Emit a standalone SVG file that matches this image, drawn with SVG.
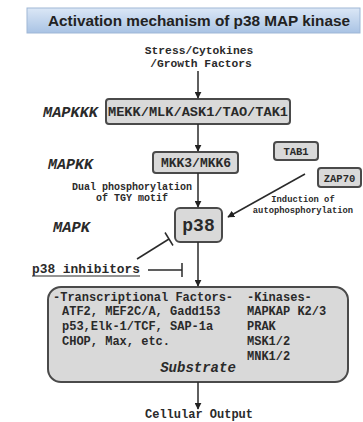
<svg xmlns="http://www.w3.org/2000/svg" width="363" height="422" viewBox="0 0 363 422">
<defs>
<linearGradient id="tg" x1="0" y1="0" x2="0" y2="1">
<stop offset="0" stop-color="#dbe7f6"/>
<stop offset="1" stop-color="#a9c3e4"/>
</linearGradient>
<marker id="ah" viewBox="0 0 10 10" refX="9" refY="5" markerWidth="7" markerHeight="7" markerUnits="userSpaceOnUse" orient="auto">
<path d="M0,0 L10,5 L0,10 z" fill="#222"/>
</marker>
</defs>
<style>
.m{font-family:"Liberation Mono","Courier New",monospace;font-weight:bold;fill:#2a2a2a}
.bx{fill:#d9d9d9;stroke:#4a4a4a;stroke-width:2}
.ln{stroke:#2a2a2a;stroke-width:1.5;fill:none}
.lab{font-family:"Liberation Mono",monospace;font-weight:bold;font-style:italic;font-size:14px;fill:#2a2a2a}
</style>
<rect width="363" height="422" fill="#ffffff"/>
<g id="title">
<rect x="27" y="8" width="333" height="25" fill="url(#tg)" stroke="#9fb7d6" stroke-width="1"/>
<text x="199" y="26" text-anchor="middle" font-family="Liberation Sans, Arial, sans-serif" font-weight="bold" font-size="14.5" fill="#222" textLength="302" lengthAdjust="spacingAndGlyphs">Activation mechanism of p38 MAP kinase</text>
</g>
<g id="stress">
<text class="m" x="199" y="54" text-anchor="middle" font-size="11.3">Stress/Cytokines</text>
<text class="m" x="201" y="67" text-anchor="middle" font-size="11.3">/Growth Factors</text>
</g>
<g id="labels">
<text class="lab" x="43" y="117" textLength="55" lengthAdjust="spacingAndGlyphs">MAPKKK</text>
<text class="lab" x="48" y="169" textLength="45" lengthAdjust="spacingAndGlyphs">MAPKK</text>
<text class="lab" x="53" y="232" textLength="37" lengthAdjust="spacingAndGlyphs">MAPK</text>
</g>
<g id="mekk">
<rect class="bx" x="106" y="99" width="184" height="25" rx="3"/>
<text class="m" x="198" y="116" text-anchor="middle" font-size="13.5" textLength="180" lengthAdjust="spacingAndGlyphs">MEKK/MLK/ASK1/TAO/TAK1</text>
</g>
<g id="mkk">
<rect class="bx" x="153" y="152" width="85" height="21" rx="3"/>
<text class="m" x="196" y="167" text-anchor="middle" font-size="13">MKK3/MKK6</text>
</g>
<g id="tab1">
<rect class="bx" x="274" y="142" width="44" height="18" rx="3"/>
<text class="m" x="296" y="155" text-anchor="middle" font-size="10.5">TAB1</text>
</g>
<g id="zap70">
<rect class="bx" x="318" y="168" width="43" height="19" rx="3"/>
<text class="m" x="339.5" y="181.5" text-anchor="middle" font-size="10.5">ZAP70</text>
</g>
<g id="p38">
<rect class="bx" x="175" y="208" width="47" height="34" rx="5"/>
<text class="m" x="198.5" y="231" text-anchor="middle" font-size="18">p38</text>
</g>
<g id="texts">
<text class="m" x="132" y="190" text-anchor="middle" font-size="10">Dual phosphorylation</text>
<text class="m" x="132" y="201" text-anchor="middle" font-size="10">of TGY motif</text>
<text class="m" x="303" y="202" text-anchor="middle" font-size="8.8">Induction of</text>
<text class="m" x="303" y="212.5" text-anchor="middle" font-size="8.8">autophosphorylation</text>
</g>
<g id="inhibitors">
<text class="m" x="32" y="273" font-size="12.9" textLength="108" lengthAdjust="spacingAndGlyphs">p38 inhibitors</text>
<line x1="32" y1="276" x2="140" y2="276" stroke="#2a2a2a" stroke-width="1.2"/>
</g>
<g id="substrate">
<rect class="bx" x="48" y="287" width="300" height="95" rx="13"/>
<text class="m" font-size="12">
<tspan x="53" y="301">-Transcriptional Factors-</tspan>
<tspan x="62" y="315">ATF2, MEF2C/A, Gadd153</tspan>
<tspan x="62" y="330">p53,Elk-1/TCF, SAP-1a</tspan>
<tspan x="62" y="345">CHOP, Max, etc.</tspan>
</text>
<text class="m" font-size="12">
<tspan x="247" y="301">-Kinases-</tspan>
<tspan x="247" y="315">MAPKAP K2/3</tspan>
<tspan x="247" y="330">PRAK</tspan>
<tspan x="247" y="345">MSK1/2</tspan>
<tspan x="247" y="360">MNK1/2</tspan>
</text>
<text class="m" x="198" y="372" text-anchor="middle" font-size="14" font-style="italic">Substrate</text>
</g>
<g id="output">
<text class="m" x="199" y="418" text-anchor="middle" font-size="12">Cellular Output</text>
</g>
<g id="connectors">
<line class="ln" x1="198" y1="71" x2="198" y2="98" marker-end="url(#ah)"/>
<line class="ln" x1="198" y1="124" x2="198" y2="151" marker-end="url(#ah)"/>
<line class="ln" x1="198" y1="173" x2="198" y2="207" marker-end="url(#ah)"/>
<line class="ln" x1="305" y1="174" x2="228" y2="217" marker-end="url(#ah)"/>
<line class="ln" x1="198" y1="242" x2="198" y2="286" marker-end="url(#ah)"/>
<line class="ln" x1="198" y1="382" x2="198" y2="409" marker-end="url(#ah)"/>
<line class="ln" x1="137" y1="259" x2="169" y2="239"/>
<line class="ln" x1="165" y1="232.5" x2="173" y2="245.5"/>
<line class="ln" x1="148" y1="270" x2="182" y2="270"/>
<line class="ln" x1="182" y1="263" x2="182" y2="277"/>
</g>
</svg>
